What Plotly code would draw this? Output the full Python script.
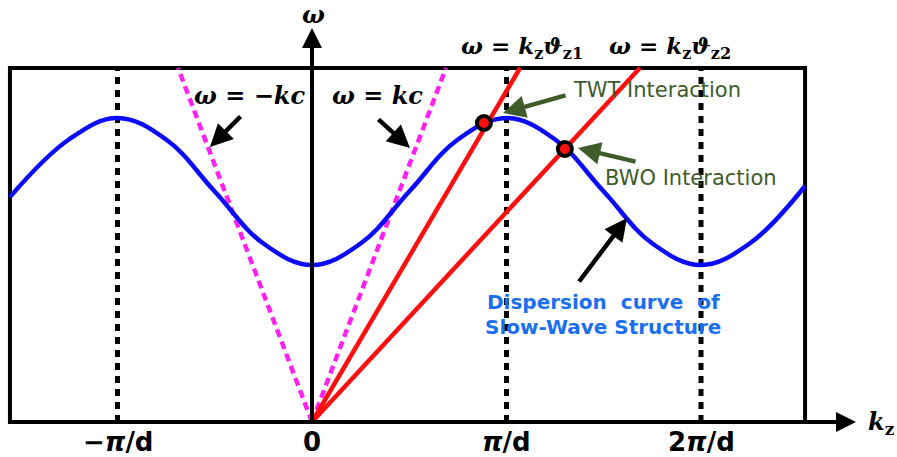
import plotly.graph_objects as go

# ---- data (k in units of pi/d, omega in arbitrary units) ----
k_disp = [-1.553, -1.25, -1.0, -0.75, -0.5, -0.25, 0.0, 0.25, 0.5, 0.75, 1.0, 1.25, 1.5, 1.75, 2.0, 2.25, 2.535]
w_disp = [2.25, 2.825, 3.04, 2.825, 2.305, 1.785, 1.57, 1.785, 2.305, 2.825, 3.04, 2.825, 2.305, 1.785, 1.57, 1.785, 2.36]
light_slope = 5.14          # omega = k c
beam_slopes = [3.31, 2.10]  # omega = k v_z1, k v_z2
interact_k = [0.884, 1.30]
interact_w = [2.99, 2.73]
tick_vals = [-1, 0, 1, 2]
tick_text = ["\u2212<i>\u03c0</i>/d", "0", "<i>\u03c0</i>/d", "2<i>\u03c0</i>/d"]
dotted_k = [-1, 1, 2]
box_x = [-1.553, 2.535]
box_top = 3.54

fig = go.Figure()

# bounding box
fig.add_shape(type="rect", x0=box_x[0], x1=box_x[1], y0=0, y1=box_top,
              line=dict(color="black", width=4), layer="below")

# dotted vertical lines
for k in dotted_k:
    fig.add_trace(go.Scatter(x=[k, k], y=[0, box_top], mode="lines",
                             line=dict(color="black", width=5, dash="7px,6px"),
                             hoverinfo="skip", showlegend=False))

# light lines
for s in [-1, 1]:
    fig.add_trace(go.Scatter(x=[0, s * box_top / light_slope], y=[0, box_top], mode="lines",
                             line=dict(color="#ff22ee", width=4.5, dash="8px,5px"),
                             hoverinfo="skip", showlegend=False))

# dispersion curve
fig.add_trace(go.Scatter(x=k_disp, y=w_disp, mode="lines",
                         line=dict(color="#0a0aff", width=4.5, shape="spline", smoothing=1.1),
                         hoverinfo="skip", showlegend=False))

# beam lines
for s in beam_slopes:
    fig.add_trace(go.Scatter(x=[0, box_top / s], y=[0, box_top], mode="lines",
                             line=dict(color="#ff1010", width=4.5),
                             hoverinfo="skip", showlegend=False))


def px(xp):
    return (xp - 312) / 194.5


def py(yp):
    return (422 - yp) / 100


# vertical axis line (over the curves)
fig.add_annotation(x=0, y=py(28), ax=0, ay=0, xref="x", yref="y", axref="x", ayref="y",
                   showarrow=True, arrowhead=2, arrowsize=1, arrowwidth=4, arrowcolor="black", text="")
# horizontal axis arrow
fig.add_annotation(x=px(856), y=0, ax=box_x[0], ay=0, xref="x", yref="y", axref="x", ayref="y",
                   showarrow=True, arrowhead=2, arrowsize=1, arrowwidth=4, arrowcolor="black", text="")

# interaction points
fig.add_trace(go.Scatter(x=interact_k, y=interact_w, mode="markers",
                         marker=dict(color="#ff1010", size=14, line=dict(color="black", width=4)),
                         hoverinfo="skip", showlegend=False))


def arrow(x0, y0, x1, y1, color):
    fig.add_annotation(x=px(x1), y=py(y1), ax=px(x0), ay=py(y0), xref="x", yref="y",
                       axref="x", ayref="y", showarrow=True, arrowhead=2, arrowsize=1,
                       arrowwidth=4.5, arrowcolor=color, text="")


arrow(242, 115, 210, 147, "black")
arrow(377, 118, 410, 148, "black")
arrow(578, 283, 627, 218, "black")
green = "#3d5c2a"
arrow(567, 95, 503, 113, green)
arrow(637, 162, 578, 148, green)


def text(x, y, t, font, xanchor="center"):
    fig.add_annotation(x=px(x), y=py(y), xref="x", yref="y", text=t, showarrow=False,
                       font=font, xanchor=xanchor, yanchor="middle")


mathfont = dict(family="DejaVu Serif", size=24, color="black")
mathfont2 = dict(family="DejaVu Serif", size=23, color="black")
text(249, 95, "<b><i>\u03c9 = \u2212kc</i></b>", mathfont)
text(377, 95, "<b><i>\u03c9 = kc</i></b>", mathfont)
text(522, 47, "<b><i>\u03c9 = k</i><sub>z</sub><i>\u03d1</i><sub>z1</sub></b>", mathfont2)
text(670, 47, "<b><i>\u03c9 = k</i><sub>z</sub><i>\u03d1</i><sub>z2</sub></b>", mathfont2)
text(313, 14, "<b><i>\u03c9</i></b>", mathfont)
text(881, 423, "<b><i>k</i><sub>z</sub></b>", mathfont)

gfont = dict(family="DejaVu Sans", size=21, color=green)
text(657, 90, "TWT Interaction", gfont)
text(691, 178, "BWO Interaction", gfont)

bfont = dict(family="DejaVu Sans", size=20, color="#1a6ff0")
text(603, 302, "<b>Dispersion  curve  of</b>", bfont)
text(603, 327, "<b>Slow-Wave Structure</b>", bfont)

tfont = dict(family="DejaVu Sans", size=26, color="black")
for v, t in zip(tick_vals, tick_text):
    fig.add_annotation(x=v, y=py(442), xref="x", yref="y", text="<b>" + t + "</b>",
                       showarrow=False, font=tfont, xanchor="center", yanchor="middle")

fig.update_layout(
    width=897, height=457, margin=dict(l=0, r=0, t=0, b=0),
    paper_bgcolor="white", plot_bgcolor="white",
    xaxis=dict(range=[px(0), px(897)], visible=False, fixedrange=True),
    yaxis=dict(range=[py(457), py(0)], visible=False, fixedrange=True),
)

fig.write_html("out.html")
